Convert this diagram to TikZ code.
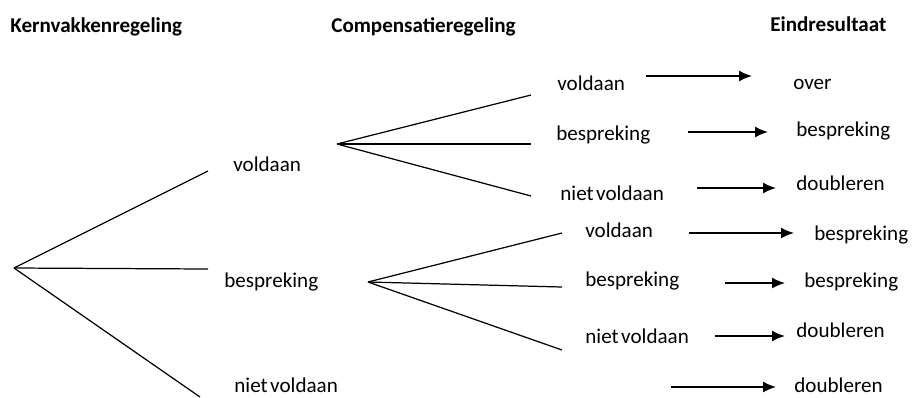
\documentclass[tikz,border=0pt]{standalone}
\usepackage{fontspec}
\setmainfont{Carlito}
\usetikzlibrary{arrows.meta}

\begin{document}
\begin{tikzpicture}[x=0.02cm, y=-0.02cm,
    lbl/.style={anchor=base west, inner sep=0pt, font=\fontsize{12}{14}\selectfont},
    head/.style={lbl, font=\fontsize{12}{14}\selectfont\bfseries},
    branch/.style={line width=0.7pt},
    res/.style={line width=0.85pt, -{Latex[length=2.6mm, width=2.2mm]}}]
    \useasboundingbox (0,0) rectangle (913,397);

    % headers
    \node[head] (kern) at (10,32) {Kernvakkenregeling};
    \node[head] (comp) at (331,32) {Compensatieregeling};
    \node[head] (eind) at (770,31) {Eindresultaat};

    % kernvakkenregeling
    \coordinate (K) at (14,268);
    \coordinate (K1) at (208,171);
    \coordinate (K2) at (208,269);
    \coordinate (K3) at (200,397);
    \draw[branch] (K) -- (K1);
    \draw[branch] (K) -- (K2);
    \draw[branch] (K) -- (K3);
    \node[lbl] (kvol) at (233,171) {voldaan};
    \node[lbl] (kbes) at (224,287) {bespreking};
    \node[lbl] (kniet) at (234,392) {niet\hspace{0.12em}voldaan};

    % compensatie na voldaan
    \coordinate (A) at (337,144);
    \coordinate (A1) at (531,95);
    \coordinate (A2) at (531,144);
    \coordinate (A3) at (531,196);
    \draw[branch] (A) -- (A1);
    \draw[branch] (A) -- (A2);
    \draw[branch] (A) -- (A3);
    \node[lbl] (avol) at (557,90) {voldaan};
    \node[lbl] (abes) at (556,140) {bespreking};
    \node[lbl] (aniet) at (560,200) {niet\hspace{0.12em}voldaan};

    % compensatie na bespreking
    \coordinate (B) at (368,282);
    \coordinate (B1) at (562,233);
    \coordinate (B2) at (562,287);
    \coordinate (B3) at (562,350);
    \draw[branch] (B) -- (B1);
    \draw[branch] (B) -- (B2);
    \draw[branch] (B) -- (B3);
    \node[lbl] (bvol) at (585,237) {voldaan};
    \node[lbl] (bbes) at (585,286) {bespreking};
    \node[lbl] (bniet) at (585,343) {niet\hspace{0.12em}voldaan};

    % eindresultaat
    \node[lbl] (r1) at (793,89) {over};
    \node[lbl] (r2) at (796,136) {bespreking};
    \node[lbl] (r3) at (796,190) {doubleren};
    \node[lbl] (r4) at (814,240) {bespreking};
    \node[lbl] (r5) at (804,287) {bespreking};
    \node[lbl] (r6) at (796,337) {doubleren};
    \node[lbl] (r7) at (794,392) {doubleren};

    \coordinate (s1) at (646,76);  \coordinate (t1) at (752,76);
    \coordinate (s2) at (688,132); \coordinate (t2) at (768,132);
    \coordinate (s3) at (697,188); \coordinate (t3) at (776,188);
    \coordinate (s4) at (689,233); \coordinate (t4) at (794,233);
    \coordinate (s5) at (725,283); \coordinate (t5) at (785,283);
    \coordinate (s6) at (715,336); \coordinate (t6) at (785,336);
    \coordinate (s7) at (671,387); \coordinate (t7) at (776,387);
    \draw[res] (s1) -- (t1);
    \draw[res] (s2) -- (t2);
    \draw[res] (s3) -- (t3);
    \draw[res] (s4) -- (t4);
    \draw[res] (s5) -- (t5);
    \draw[res] (s6) -- (t6);
    \draw[res] (s7) -- (t7);
\end{tikzpicture}
\end{document}
